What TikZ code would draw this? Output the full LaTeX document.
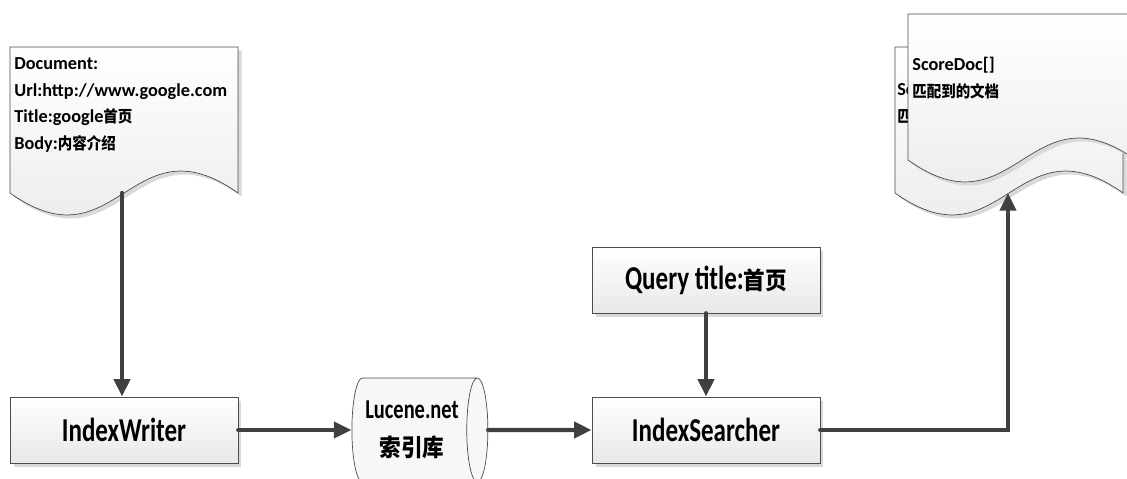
\documentclass[tikz,border=0pt]{standalone}
\usepackage{fontspec}
\setmainfont{Carlito}
\newfontfamily\boxfont{Carlito}[FakeStretch=0.75]
\newfontfamily\cjk{Noto Sans CJK SC}[Scale=0.88,FakeStretch=0.9]
\usetikzlibrary{shapes.geometric,shadows,arrows.meta}

% outline of one document page, top left corner at the origin
\newcommand{\docpage}{(0,0) -- (228,0) -- (228,146) .. controls (121,70) and (107,222) .. (0,146) -- cycle}

\begin{document}
\begin{tikzpicture}[x=0.02cm, y=-0.02cm,
		box_style/.style={rectangle,draw=black!70,top color=white,bottom color=black!9,
			minimum width=4.56cm,minimum height=1.32cm,font=\boxfont\bfseries\fontsize{19}{22}\selectfont,
			drop shadow={shadow xshift=2pt,shadow yshift=-2pt,fill=black!15,opacity=1}},
		doc_style/.style={draw=black!70,top color=white,bottom color=black!9,
			drop shadow={shadow xshift=2pt,shadow yshift=-2pt,fill=black!15,opacity=1}},
		doc_text/.style={anchor=north west,inner sep=0pt,align=left,
			font=\bfseries\fontsize{10.4}{15.3}\selectfont},
		% the cylinder lies on its side: height runs along x here
		db_style/.style={cylinder,draw=black!70,fill=black!3,aspect=0.3,
			minimum width=2.08cm,minimum height=2.72cm,align=center,
			font=\boxfont\bfseries\fontsize{15.5}{22}\selectfont},
		edge_style/.style={draw=black!75,line width=2.5pt,line cap=round,
			-{Triangle[length=10pt,width=9pt]}}]

		\useasboundingbox (0,0) rectangle (1127,479);
		\clip (0,0) rectangle (1127,479);

		% source document
		\draw[doc_style,shift={(10,47)}] \docpage;
		\node[doc_text] (doc) at (14,57) {Document:\\Url:http://www.google.com\\Title:google{\cjk 首页}\\Body:{\cjk 内容介绍}};
		\coordinate (doc_out) at (122,193);

		% result documents, stacked
		\draw[doc_style,shift={(895,47)}] \docpage;
		\node[doc_text] (res_back) at (897,82) {ScoreDoc[]\\{\cjk 匹配到的文档}};
		\draw[doc_style,shift={(908,14)}] \docpage;
		\node[doc_text] (res) at (912,57) {ScoreDoc[]\\{\cjk 匹配到的文档}};
		\coordinate (res_in) at (1008,193);

		\node[box_style] (writer) at (124,430) {IndexWriter};
		\node[db_style] (db) at (412,430) {Lucene.net\\{\cjk 索引库}};
		\node[box_style] (searcher) at (706,430) {IndexSearcher};
		\node[box_style] (query) at (706,280) {Query title:{\cjk\fontsize{15.5}{18}\selectfont 首页}};

		\draw[edge_style] (doc_out) -- (doc_out |- writer.north);
		\draw[edge_style] (writer) -- (db);
		\draw[edge_style] (db) -- (searcher);
		\draw[edge_style] (query) -- (searcher);
		\draw[edge_style] (searcher) -| (res_in);
\end{tikzpicture}
\end{document}
